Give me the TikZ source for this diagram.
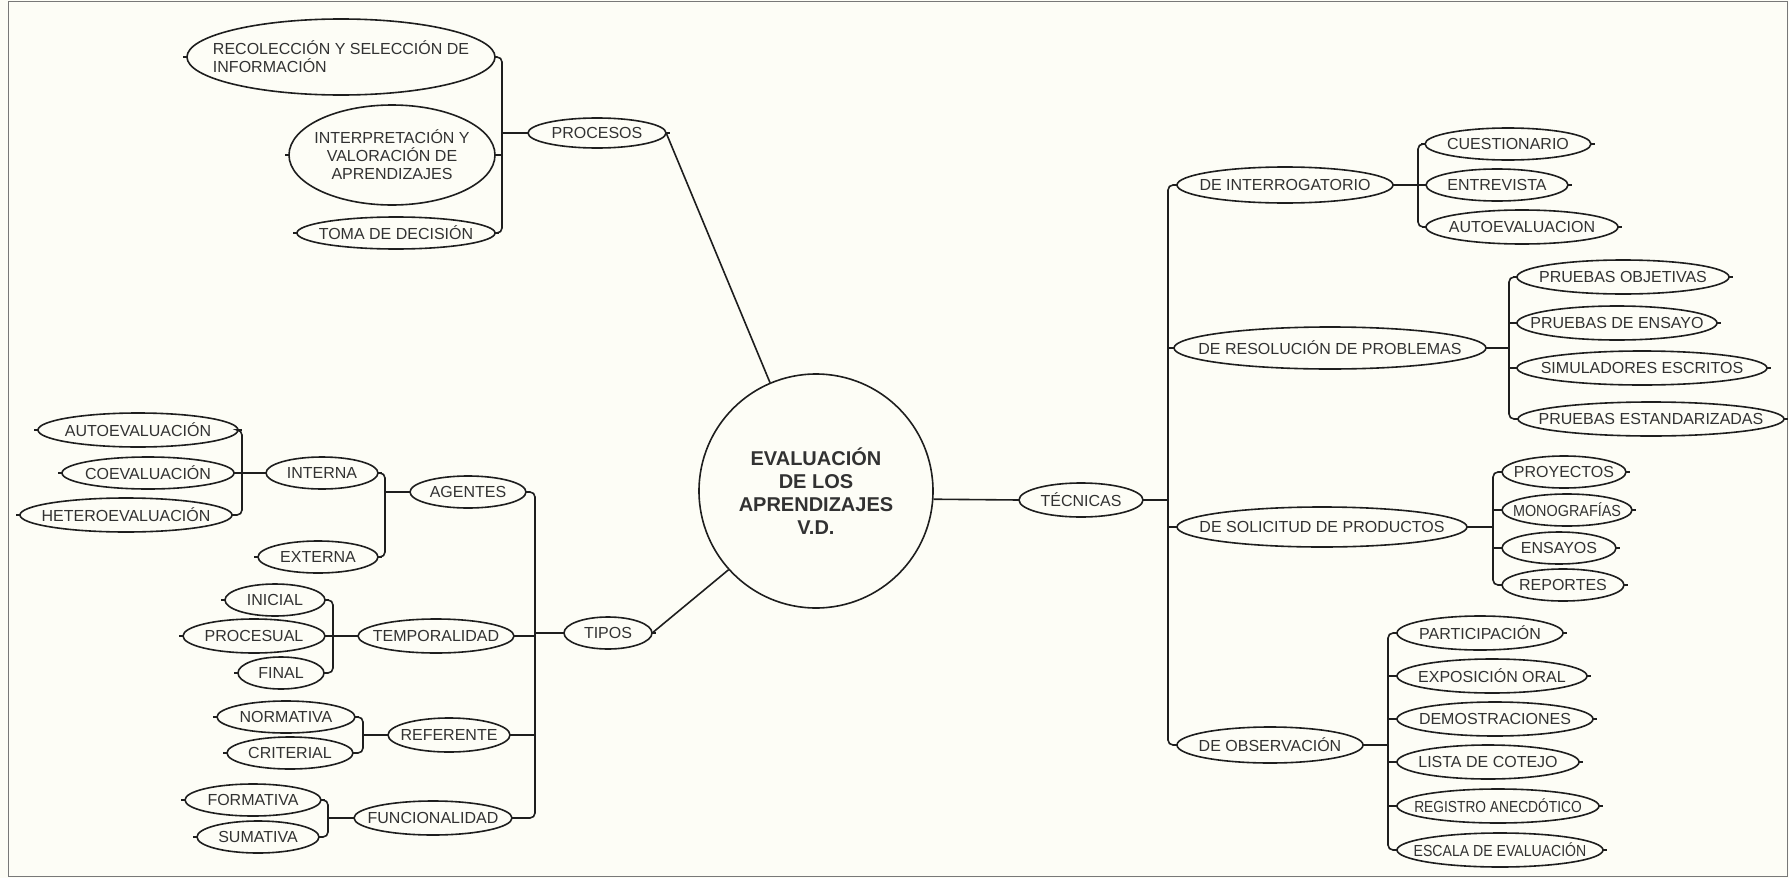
\documentclass[tikz,border=0pt]{standalone}
\usepackage{graphicx}
\usepackage{fontspec}
\setmainfont{Liberation Sans}
\definecolor{bg}{RGB}{253,253,246}
\definecolor{ink}{RGB}{30,30,30}
\definecolor{txt}{RGB}{50,50,50}
\definecolor{frame}{RGB}{120,120,120}
\tikzset{
  elbox/.style={rectangle, inner sep=0pt, text=txt, font=\fontsize{16}{18}\selectfont, align=center},
  ln/.style={draw=ink, line width=1.6pt},
  br/.style={draw=ink, line width=1.6pt, rounded corners=5pt}
}
\newcommand\mkel[6]{%
  \node[elbox, minimum width={2*#4}, minimum height={2*#5}] (#1) at (#2,#3) {#6};
  \draw[ln] (#1.center) ellipse [x radius=#4pt, y radius=#5pt];
  \draw[ln] (#1.west) -- ++(-4,0) (#1.east) -- ++(4,0);
}
\newcommand\cond[2]{\scalebox{#1}[1]{#2}}
\begin{document}
\begin{tikzpicture}[x=1pt,y=-1pt]
\fill[bg] (0,0) rectangle (1789,878);
\useasboundingbox (0,0) rectangle (1789,878);
\draw[frame, line width=1pt] (8.5,1.5) rectangle (1787,876.5);

% centre
\node[circle, draw=ink, line width=1.6pt, minimum size=234pt, inner sep=0pt,
  font=\bfseries\fontsize{20}{23}\selectfont, text=txt, align=center] (c) at (816,491)
  {EVALUACIÓN\\DE LOS\\APRENDIZAJES\\V.D.};

% PROCESOS
\mkel{proc}{597}{133}{69}{15}{PROCESOS}
\node[elbox, minimum width=308, minimum height=76, align=left] (rec) at (341,57) {RECOLECCIÓN Y SELECCIÓN DE\\INFORMACIÓN};
\draw[ln] (rec.center) ellipse [x radius=154pt, y radius=38pt];
\draw[ln] (rec.west) -- ++(-4,0);
\mkel{intp}{392}{155}{103}{50}{INTERPRETACIÓN Y\\VALORACIÓN DE\\APRENDIZAJES}
\mkel{toma}{396}{233}{99}{16}{TOMA DE DECISIÓN}
\coordinate (bP) at (502,0);
\draw[br] (rec.east) -- (rec.east -| bP) -- (toma.east -| bP) -- (toma.east);
\draw[ln] (intp.east) -- (intp.east -| bP);
\draw[ln] (proc.west) -- (proc.west -| bP);
\draw[ln] (proc.east) -- (c.113);

% TIPOS
\mkel{tipos}{608}{633}{44}{16}{TIPOS}
\mkel{agen}{468}{492}{58}{16}{AGENTES}
\mkel{temp}{436}{636}{78}{17}{TEMPORALIDAD}
\mkel{refe}{449}{735}{61}{17}{REFERENTE}
\mkel{func}{433}{818}{79}{17}{FUNCIONALIDAD}
\coordinate (bT) at (535,0);
\draw[br] (agen.east) -- (agen.east -| bT) -- (func.east -| bT) -- (func.east);
\draw[ln] (temp.east) -- (temp.east -| bT);
\draw[ln] (refe.east) -- (refe.east -| bT);
\draw[ln] (tipos.west) -- (tipos.west -| bT);
\draw[ln] (tipos.east) -- (c.222);

% AGENTES
\mkel{inte}{322}{473}{56}{16}{INTERNA}
\mkel{exte}{318}{557}{60}{16}{EXTERNA}
\coordinate (bA) at (385,0);
\draw[br] (inte.east) -- (inte.east -| bA) -- (exte.east -| bA) -- (exte.east);
\draw[ln] (agen.west) -- (agen.west -| bA);
\mkel{aute}{138}{430}{100}{17}{AUTOEVALUACIÓN}
\mkel{coev}{148}{473}{86}{16}{COEVALUACIÓN}
\mkel{hete}{126}{515}{106}{17}{HETEROEVALUACIÓN}
\coordinate (bI) at (242,0);
\draw[br] (aute.east) -- (aute.east -| bI) -- (hete.east -| bI) -- (hete.east);
\draw[ln] (coev.east) -- (coev.east -| bI);
\draw[ln] (inte.west) -- (inte.west -| bI);

% TEMPORALIDAD
\mkel{inic}{275}{600}{50}{16}{INICIAL}
\mkel{proc2}{254}{636}{71}{17}{PROCESUAL}
\mkel{fina}{281}{673}{43}{16}{FINAL}
\coordinate (bTe) at (333,0);
\draw[br] (inic.east) -- (inic.east -| bTe) -- (fina.east -| bTe) -- (fina.east);
\draw[ln] (proc2.east) -- (proc2.east -| bTe);
\draw[ln] (temp.west) -- (temp.west -| bTe);

% REFERENTE
\mkel{norm}{286}{717}{69}{16}{NORMATIVA}
\mkel{crit}{290}{753}{63}{16}{CRITERIAL}
\coordinate (bR) at (363,0);
\draw[br] (norm.east) -- (norm.east -| bR) -- (crit.east -| bR) -- (crit.east);
\draw[ln] (refe.west) -- (refe.west -| bR);

% FUNCIONALIDAD
\mkel{form}{253}{800}{68}{16}{FORMATIVA}
\mkel{suma}{258}{837}{61}{16}{SUMATIVA}
\coordinate (bF) at (328,0);
\draw[br] (form.east) -- (form.east -| bF) -- (suma.east -| bF) -- (suma.east);
\draw[ln] (func.west) -- (func.west -| bF);

% TECNICAS
\mkel{tec}{1081}{500}{62}{17}{TÉCNICAS}
\draw[ln] (c.-4.4) -- (tec.west);
\mkel{inter}{1285}{185}{108}{18}{DE INTERROGATORIO}
\mkel{reso}{1330}{348}{156}{21}{DE RESOLUCIÓN DE PROBLEMAS}
\mkel{soli}{1322}{527}{145}{20}{DE SOLICITUD DE PRODUCTOS}
\mkel{obs}{1270}{745}{93}{18}{DE OBSERVACIÓN}
\coordinate (bX) at (1168,0);
\draw[br] (inter.west) -- (inter.west -| bX) -- (obs.west -| bX) -- (obs.west);
\draw[ln] (reso.west) -- (reso.west -| bX);
\draw[ln] (soli.west) -- (soli.west -| bX);
\draw[ln] (tec.east) -- (tec.east -| bX);

% DE INTERROGATORIO
\mkel{cues}{1508}{144}{83}{16}{CUESTIONARIO}
\mkel{entr}{1497}{185}{71}{16}{ENTREVISTA}
\mkel{auto2}{1522}{227}{96}{17}{AUTOEVALUACION}
\coordinate (bQ) at (1418,0);
\draw[br] (cues.west) -- (cues.west -| bQ) -- (auto2.west -| bQ) -- (auto2.west);
\draw[ln] (entr.west) -- (entr.west -| bQ);
\draw[ln] (inter.east) -- (inter.east -| bQ);

% DE RESOLUCION
\mkel{pobj}{1623}{277}{106}{17}{PRUEBAS OBJETIVAS}
\mkel{pens}{1617}{323}{100}{17}{PRUEBAS DE ENSAYO}
\mkel{simu}{1642}{368}{125}{17}{SIMULADORES ESCRITOS}
\mkel{pest}{1651}{419}{133}{17}{PRUEBAS ESTANDARIZADAS}
\coordinate (bS) at (1509,0);
\draw[br] (pobj.west) -- (pobj.west -| bS) -- (pest.west -| bS) -- (pest.west);
\draw[ln] (pens.west) -- (pens.west -| bS);
\draw[ln] (simu.west) -- (simu.west -| bS);
\draw[ln] (reso.east) -- (reso.east -| bS);

% DE SOLICITUD
\mkel{proy}{1564}{472}{62}{16}{PROYECTOS}
\mkel{mono}{1567}{510}{65}{16}{\cond{0.9}{MONOGRAFÍAS}}
\mkel{ensa}{1559}{548}{57}{16}{ENSAYOS}
\mkel{repo}{1563}{585}{61}{16}{REPORTES}
\coordinate (bO) at (1493,0);
\draw[br] (proy.west) -- (proy.west -| bO) -- (repo.west -| bO) -- (repo.west);
\draw[ln] (mono.west) -- (mono.west -| bO);
\draw[ln] (ensa.west) -- (ensa.west -| bO);
\draw[ln] (soli.east) -- (soli.east -| bO);

% DE OBSERVACION
\mkel{part}{1480}{633}{83}{17}{PARTICIPACIÓN}
\mkel{expo}{1492}{676}{95}{17}{EXPOSICIÓN ORAL}
\mkel{demo}{1495}{719}{98}{17}{DEMOSTRACIONES}
\mkel{lista}{1488}{762}{91}{17}{LISTA DE COTEJO}
\mkel{regi}{1498}{806}{101}{17}{\cond{0.86}{REGISTRO ANECDÓTICO}}
\mkel{esca}{1500}{850}{103}{17}{\cond{0.88}{ESCALA DE EVALUACIÓN}}
\coordinate (bB) at (1388,0);
\draw[br] (part.west) -- (part.west -| bB) -- (esca.west -| bB) -- (esca.west);
\draw[ln] (expo.west) -- (expo.west -| bB);
\draw[ln] (demo.west) -- (demo.west -| bB);
\draw[ln] (lista.west) -- (lista.west -| bB);
\draw[ln] (regi.west) -- (regi.west -| bB);
\draw[ln] (obs.east) -- (obs.east -| bB);
\end{tikzpicture}
\end{document}
